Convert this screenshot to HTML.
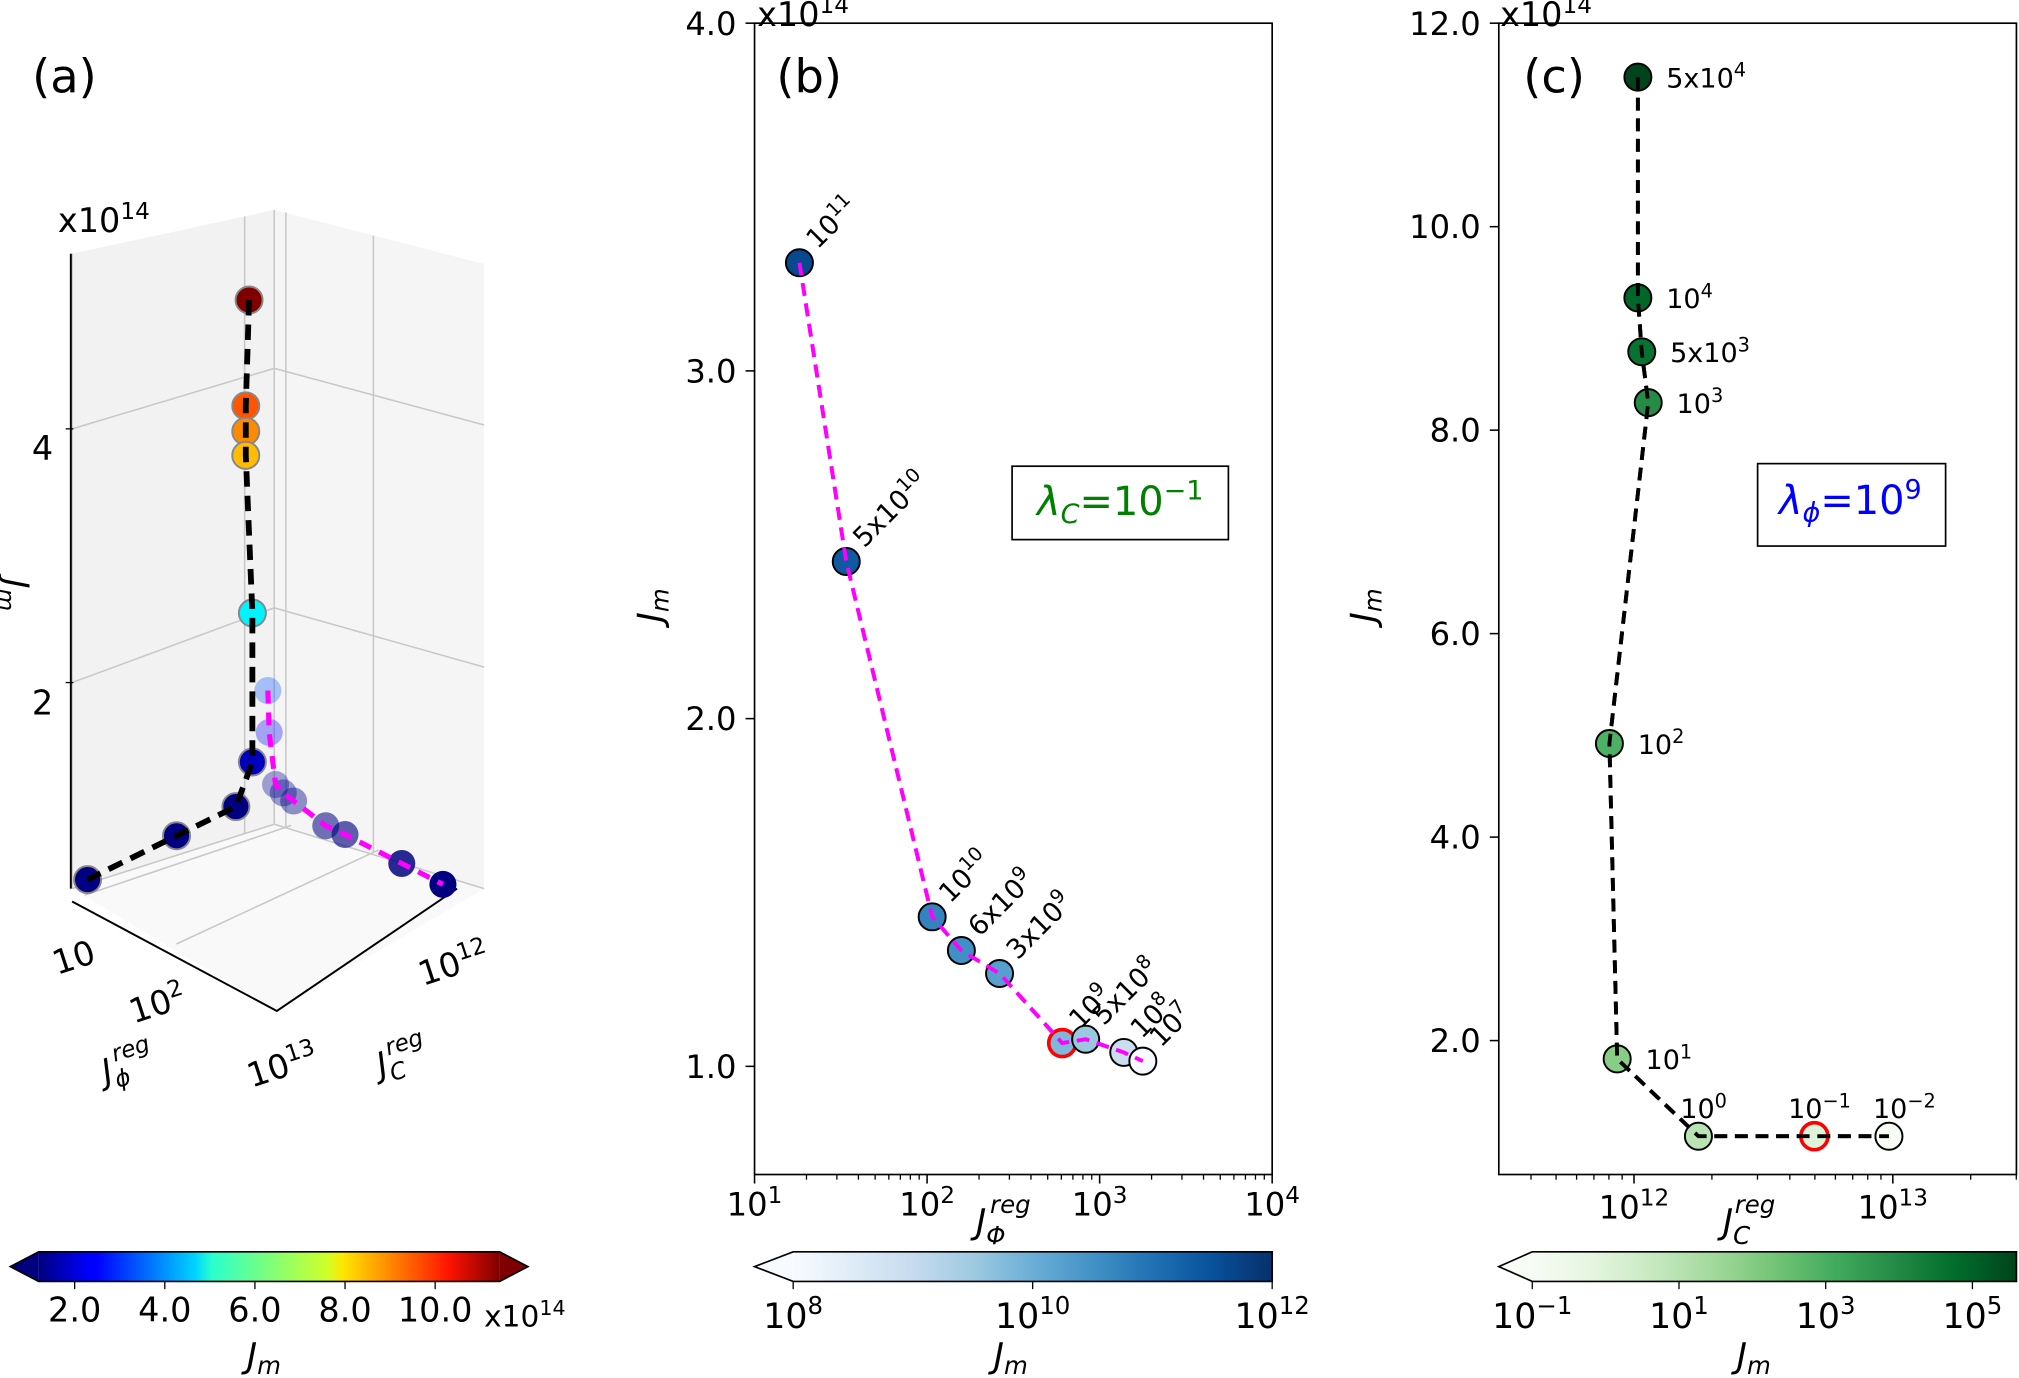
<!DOCTYPE html>
<html><head><meta charset="utf-8"><style>
html,body{margin:0;padding:0;background:#fff}
svg{display:block}
text{font-family:"DejaVu Sans","Liberation Sans",sans-serif;fill:#000}
</style></head><body>
<svg id="fig" xmlns="http://www.w3.org/2000/svg" width="2019" height="1378" viewBox="0 0 1568 1070" preserveAspectRatio="none">
<defs>
<linearGradient id="gJet" x1="0" x2="1" y1="0" y2="0">
<stop offset="0" stop-color="#00007f"/><stop offset="0.11" stop-color="#0000ff"/><stop offset="0.125" stop-color="#0000ff"/><stop offset="0.34" stop-color="#00d4ff"/><stop offset="0.375" stop-color="#29ffce"/><stop offset="0.5" stop-color="#7dff7a"/><stop offset="0.625" stop-color="#ceff29"/><stop offset="0.66" stop-color="#ffe600"/><stop offset="0.89" stop-color="#ff1300"/><stop offset="1" stop-color="#7f0000"/>
</linearGradient>
<linearGradient id="gBlues" x1="0" x2="1"><stop offset="0" stop-color="#f7fbff"/><stop offset=".125" stop-color="#deebf7"/><stop offset=".25" stop-color="#c6dbef"/><stop offset=".375" stop-color="#9ecae1"/><stop offset=".5" stop-color="#6baed6"/><stop offset=".625" stop-color="#4292c6"/><stop offset=".75" stop-color="#2171b5"/><stop offset=".875" stop-color="#08519c"/><stop offset="1" stop-color="#08306b"/></linearGradient>
<linearGradient id="gGreens" x1="0" x2="1"><stop offset="0" stop-color="#f7fcf5"/><stop offset=".125" stop-color="#e5f5e0"/><stop offset=".25" stop-color="#c7e9c0"/><stop offset=".375" stop-color="#a1d99b"/><stop offset=".5" stop-color="#74c476"/><stop offset=".625" stop-color="#41ab5d"/><stop offset=".75" stop-color="#238b45"/><stop offset=".875" stop-color="#006d2c"/><stop offset="1" stop-color="#00441b"/></linearGradient>
</defs>

<g>
<polygon points="56,197 213,163 213,640 56,690" fill="#f2f2f2"/>
<polygon points="213,163 376,205 376,690 213,640" fill="#f5f5f5"/>
<polygon points="56,690 213,640 376,690 215,785" fill="#f9f9f9"/>
<g stroke="#c8c8c8" stroke-width="1.2" fill="none">
<line x1="56" y1="197" x2="56" y2="690"/><line x1="190" y1="168" x2="190" y2="647"/>
<line x1="213" y1="163" x2="213" y2="640"/><line x1="222" y1="165" x2="222" y2="642"/><line x1="290" y1="183" x2="290" y2="662"/>
<polyline points="56,333 213,286 376,330"/><polyline points="56,530 213,472 376,518"/>
<line x1="66" y1="695" x2="226" y2="641"/><line x1="137" y1="733" x2="294" y2="660"/>
<line x1="213" y1="640" x2="376" y2="690"/><line x1="213" y1="640" x2="56" y2="690"/>
</g>
<line x1="55" y1="197" x2="55" y2="690" stroke="#000" stroke-width="1.5"/>
<line x1="51" y1="333" x2="57" y2="333" stroke="#000"/><line x1="51" y1="530" x2="57" y2="530" stroke="#000"/>
<polyline points="56,700 215,785 355,690" fill="none" stroke="#000" stroke-width="1.5"/>
<text x="33" y="357" font-size="26" text-anchor="middle">4</text>
<text x="33" y="555" font-size="26" text-anchor="middle">2</text>
<text x="45" y="180" font-size="26">x10<tspan font-size="18" dy="-10">14</tspan></text>
<text transform="translate(4,462) rotate(90)" font-size="26" font-style="italic" text-anchor="middle">J<tspan font-size="18" dy="5">m</tspan></text>
<text transform="translate(60,752) rotate(-18)" font-size="26" text-anchor="middle">10</text>
<text transform="translate(125,788) rotate(-18)" font-size="26" text-anchor="middle">10<tspan font-size="18" dy="-10">2</tspan></text>
<text transform="translate(222,836) rotate(-18)" font-size="26" text-anchor="middle">10<tspan font-size="18" dy="-10">13</tspan></text>
<text transform="translate(355,757) rotate(-18)" font-size="26" text-anchor="middle">10<tspan font-size="18" dy="-10">12</tspan></text>
<text transform="translate(102,835) rotate(-18)" font-size="26" font-style="italic" text-anchor="middle">J<tspan font-size="18" dy="6">ϕ</tspan><tspan font-size="18" dx="-8" dy="-20">reg</tspan></text>
<text transform="translate(315,830) rotate(-18)" font-size="26" font-style="italic" text-anchor="middle">J<tspan font-size="18" dy="6">C</tspan><tspan font-size="18" dx="-10" dy="-20">reg</tspan></text>
<text x="25" y="72" font-size="36">(a)</text>
</g>
<g id="a-marks"></g>

<g>
<text x="603" y="72" font-size="36">(b)</text>
<g id="b-ticks"></g>
<g id="b-marks"></g>
<rect x="586" y="18" width="402" height="894" fill="none" stroke="#000" stroke-width="1.3"/>
<text x="588" y="20" font-size="26">x10<tspan font-size="18" dy="-10">14</tspan></text>
<text transform="translate(514,470) rotate(-90)" font-size="27" font-style="italic" text-anchor="middle">J<tspan font-size="19" dy="5">m</tspan></text>
<text x="758" y="958" font-size="27" font-style="italic">J<tspan font-size="19" dy="8">Φ</tspan><tspan font-size="19" dx="-12" dy="-24">reg</tspan></text>
<rect x="786" y="362" width="168" height="57" fill="#fff" stroke="#000" stroke-width="1.3"/>
<text x="870" y="400" font-size="31" text-anchor="middle" style="fill:#008000"><tspan font-style="italic">λ</tspan><tspan font-size="21" font-style="italic" dy="6">C</tspan><tspan dy="-6">=10</tspan><tspan font-size="21" dy="-12">−1</tspan></text>
</g>

<g>
<text x="1183" y="72" font-size="36">(c)</text>
<g id="c-ticks"></g>
<g id="c-marks"></g>
<rect x="1164" y="18" width="402" height="894" fill="none" stroke="#000" stroke-width="1.3"/>
<text x="1165" y="20" font-size="26">x10<tspan font-size="18" dy="-10">14</tspan></text>
<text transform="translate(1068,470) rotate(-90)" font-size="27" font-style="italic" text-anchor="middle">J<tspan font-size="19" dy="5">m</tspan></text>
<text x="1338" y="958" font-size="27" font-style="italic">J<tspan font-size="19" dy="8">C</tspan><tspan font-size="19" dx="-12" dy="-24">reg</tspan></text>
<rect x="1365" y="360" width="146" height="64" fill="#fff" stroke="#000" stroke-width="1.3"/>
<text x="1437" y="399" font-size="31" text-anchor="middle" style="fill:#0000ff"><tspan font-style="italic">λ</tspan><tspan font-size="21" font-style="italic" dy="6">ϕ</tspan><tspan dy="-6">=10</tspan><tspan font-size="21" dy="-12">9</tspan></text>
</g>

<g>
<rect x="30" y="972" width="358" height="23" fill="url(#gJet)"/>
<polygon points="30,972 8,983.5 30,995" fill="#00007f"/><polygon points="388,972 410,983.5 388,995" fill="#7f0000"/>
<polygon points="30,972 388,972 410,983.5 388,995 30,995 8,983.5" fill="none" stroke="#000" stroke-width="1.3"/>
<g id="cba-ticks"></g>
<text x="376" y="1030" font-size="23">x10<tspan font-size="16" dy="-9">14</tspan></text>
<text x="205" y="1062" font-size="27" font-style="italic" text-anchor="middle">J<tspan font-size="19" dy="5">m</tspan></text>
</g>
<g>
<rect x="616" y="972" width="372" height="23" fill="url(#gBlues)"/>
<polygon points="616,972 586,983.5 616,995" fill="#f7fbff"/>
<polygon points="616,972 988,972 988,995 616,995 586,983.5" fill="none" stroke="#000" stroke-width="1.3"/>
<g id="cbb-ticks"></g>
<text x="785" y="1062" font-size="27" font-style="italic" text-anchor="middle">J<tspan font-size="19" dy="5">m</tspan></text>
</g>
<g>
<rect x="1190" y="972" width="376" height="23" fill="url(#gGreens)"/>
<polygon points="1190,972 1164,983.5 1190,995" fill="#f7fcf5"/>
<polygon points="1190,972 1566,972 1566,995 1190,995 1164,983.5" fill="none" stroke="#000" stroke-width="1.3"/>
<g id="cbc-ticks"></g>
<text x="1362" y="1062" font-size="27" font-style="italic" text-anchor="middle">J<tspan font-size="19" dy="5">m</tspan></text>
</g>
</svg>
<script>
const bLambdaExp = [11, 10.699, 10, 9.778, 9.477, 9, 8.699, 8, 7];
const bLabels = ["10|11","5x10|10","10|10","6x10|9","3x10|9","10|9","5x10|8","10|8","10|7"];
const bJphi = [18.2, 34, 107, 158, 263, 607, 830, 1380, 1780];
const bJm = [3.311, 2.452, 1.43, 1.333, 1.267, 1.067, 1.078, 1.04, 1.015];
const bYTicks = [1.0, 2.0, 3.0, 4.0];
const bXTickExps = [1, 2, 3, 4];
const cLambdaExp = [4.699, 4, 3.699, 3, 2, 1, 0, -1, -2];
const cLabels = ["5x10|4","10|4","5x10|3","10|3","10|2","10|1","10|0","10|−1","10|−2"];
const cJcLog = [12.015, 12.015, 12.03, 12.055, 11.905, 11.935, 12.249, 12.697, 12.985];
const cJm = [11.47, 9.30, 8.77, 8.27, 4.92, 1.82, 1.06, 1.06, 1.06];
const cYTicks = [2.0, 4.0, 6.0, 8.0, 10.0, 12.0];
const cXTickExps = [12, 13];
const aBlackU = [0.02, 0.04, 0.04, 0.04, 0, 0, 0.1, 0.46, 1];
const aBlackJm = [11.47, 9.30, 8.77, 8.27, 4.92, 1.82, 1.06, 1.06, 1.06];
const aMagV = [-0.046, -0.038, 0, 0.046, 0.108, 0.3, 0.415, 0.754, 1];
const aMagJm = [3.311, 2.452, 1.43, 1.333, 1.267, 1.07, 1.08, 1.04, 1.015];
const cbaTicks = [2.0, 4.0, 6.0, 8.0, 10.0];
const cbbTickExps = [8, 10, 12];
const cbcTickExps = [-1, 1, 3, 5];

const NS = "http://www.w3.org/2000/svg";
function mk(tag, attrs, parent){const e=document.createElementNS(NS,tag);for(const k in attrs)e.setAttribute(k,attrs[k]);parent.appendChild(e);return e;}
function lerpHex(stops,t){t=Math.max(0,Math.min(1,t));const n=stops.length-1;const i=Math.min(n-1,Math.floor(t*n));const f=t*n-i;
 const a=stops[i],b=stops[i+1];const c=[0,2,4].map(j=>Math.round(parseInt(a.substr(1+j,2),16)*(1-f)+parseInt(b.substr(1+j,2),16)*f));return `rgb(${c[0]},${c[1]},${c[2]})`;}
const BLUES=["#f7fbff","#deebf7","#c6dbef","#9ecae1","#6baed6","#4292c6","#2171b5","#08519c","#08306b"];
const GREENS=["#f7fcf5","#e5f5e0","#c7e9c0","#a1d99b","#74c476","#41ab5d","#238b45","#006d2c","#00441b"];
function jet(t){t=Math.max(0,Math.min(1,t));const r=Math.max(0,Math.min(1,1.5-Math.abs(4*t-3))),g=Math.max(0,Math.min(1,1.5-Math.abs(4*t-2))),b=Math.max(0,Math.min(1,1.5-Math.abs(4*t-1)));return `rgb(${Math.round(r*255)},${Math.round(g*255)},${Math.round(b*255)})`;}
function supText(parent,x,y,str,fs,anchor,rot){
 const [base,sup]=str.split("|");
 const t=mk("text",{x:x,y:y,"font-size":fs,"text-anchor":anchor||"start"},parent);
 if(rot)t.setAttribute("transform",`rotate(${rot} ${x} ${y})`);
 t.appendChild(document.createTextNode(base));
 if(sup!==undefined){const s=mk("tspan",{"font-size":Math.round(fs*0.7),dy:-fs*0.4},t);s.textContent=sup;}
 return t;}

const bx = v => 586 + (Math.log10(v)-1)*134;
const by = v => 18 + (4-v)*270;
const cx = lg => 1269 + (lg-12)*201;
const cy = v => 18 + (12-v)*79;
const aProjBlack = (u,jm) => [196-128*u, 620+63*u-(jm-1.06)*37.3];
const aProjMag = (v,jm) => [214+130*v, 623+62*v-(jm-1.06)*37.3];
const jetNorm = v => (v-1.2)/(11.43-1.2);
const bluesNorm = e => (e-8)/4;
const greensNorm = e => (e+1)/6.6;
const bMarkNorm = e => (e-7)/4.4;
const cMarkNorm = e => (e+2)/6.7;

const bt=document.getElementById("b-ticks");
bYTicks.forEach(v=>{const y=by(v);
 mk("line",{x1:579,y1:y,x2:586,y2:y,stroke:"#000","stroke-width":1.2},bt);
 const t=mk("text",{x:572,y:y+9,"font-size":25,"text-anchor":"end"},bt);t.textContent=v.toFixed(1);
 
 });
bXTickExps.forEach(e=>{const x=bx(Math.pow(10,e));
 mk("line",{x1:x,y1:912,x2:x,y2:919,stroke:"#000","stroke-width":1.2},bt);
 const t=supText(bt,x,944,"10|"+e,25,"middle");
 
 
 if(e<4)for(let m=2;m<10;m++){const xm=bx(m*Math.pow(10,e));mk("line",{x1:xm,y1:912,x2:xm,y2:916,stroke:"#000","stroke-width":1},bt);}});
const bm=document.getElementById("b-marks");
const bLine=mk("polyline",{points:bJphi.map((v,i)=>bx(v)+","+by(bJm[i])).join(" "),fill:"none",stroke:"#ff00ff","stroke-width":3,"stroke-dasharray":"10,6"},bm);


bJphi.forEach((v,i)=>{const x=bx(v),y=by(bJm[i]);
 const red=bLambdaExp[i]===9;
 const c=mk("circle",{cx:x,cy:y,r:10.5,fill:lerpHex(BLUES,bMarkNorm(bLambdaExp[i])),stroke:red?"#ff0000":"#000","stroke-width":red?2.8:1.5},bm);
 
 
 const t=supText(bm,x+14,y-10,bLabels[i],21,"start",-45);
 
 });
mk("polyline",{points:bJphi.map((v,i)=>bx(v)+","+by(bJm[i])).join(" "),fill:"none",stroke:"#ff00ff","stroke-width":3,"stroke-dasharray":"10,6"},bm);

const ct=document.getElementById("c-ticks");
cYTicks.forEach(v=>{const y=cy(v);
 mk("line",{x1:1157,y1:y,x2:1164,y2:y,stroke:"#000","stroke-width":1.2},ct);
 const t=mk("text",{x:1150,y:y+9,"font-size":25,"text-anchor":"end"},ct);t.textContent=v.toFixed(1);
 
 });
cXTickExps.forEach(e=>{const x=cx(e);
 mk("line",{x1:x,y1:912,x2:x,y2:919,stroke:"#000","stroke-width":1.2},ct);
 const t=supText(ct,x,946,"10|"+e,25,"middle");
 
 });
[11,12,13].forEach(e=>{for(let m=2;m<10;m++){const lg=e+Math.log10(m);const x=cx(lg);if(x>1164&&x<1566)mk("line",{x1:x,y1:912,x2:x,y2:916,stroke:"#000","stroke-width":1},ct);}});
const cm=document.getElementById("c-marks");
const cLine=mk("polyline",{points:cJcLog.map((v,i)=>cx(v)+","+cy(cJm[i])).join(" "),fill:"none",stroke:"#000","stroke-width":3,"stroke-dasharray":"10,6"},cm);


cJcLog.forEach((v,i)=>{const x=cx(v),y=cy(cJm[i]);
 const red=cLambdaExp[i]===-1;
 const c=mk("circle",{cx:x,cy:y,r:10.5,fill:lerpHex(GREENS,cMarkNorm(cLambdaExp[i])),stroke:red?"#ff0000":"#000","stroke-width":red?2.8:1.5},cm);
 
 
 const above=cLambdaExp[i]<=0;
 const t=supText(cm,above?x+(cLambdaExp[i]===-2?12:4):x+22,above?y-14:y+8,cLabels[i],21,above?"middle":"start",0);
 
 });
mk("polyline",{points:cJcLog.map((v,i)=>cx(v)+","+cy(cJm[i])).join(" "),fill:"none",stroke:"#000","stroke-width":3,"stroke-dasharray":"10,6"},cm);

const am=document.getElementById("a-marks");
const blackPts=aBlackU.map((u,i)=>aProjBlack(u,aBlackJm[i]));
const magPts=aMagV.map((v,i)=>aProjMag(v,aMagJm[i]));
magPts.forEach((p,i)=>{
 const c=mk("circle",{cx:p[0],cy:p[1],r:10.5,fill:jet(jetNorm(aMagJm[i])),"fill-opacity":Math.max(0.3,Math.min(1,0.35+0.65*aMagV[i]))},am);
 
 });
const ml=mk("polyline",{points:magPts.map(p=>p.join(",")).join(" "),fill:"none",stroke:"#ff00ff","stroke-width":4,"stroke-dasharray":"10,7"},am);


blackPts.forEach((p,i)=>{
 const c=mk("circle",{cx:p[0],cy:p[1],r:10.5,fill:jet(jetNorm(aBlackJm[i])),stroke:"#888","stroke-width":1.5},am);
 
 });
const bl=mk("polyline",{points:blackPts.map(p=>p.join(",")).join(" "),fill:"none",stroke:"#000","stroke-width":4.5,"stroke-dasharray":"12,7"},am);



const ca=document.getElementById("cba-ticks");
cbaTicks.forEach(v=>{const x=30+(v-1.2)/(11.43-1.2)*358;
 mk("line",{x1:x,y1:995,x2:x,y2:1001,stroke:"#000"},ca);
 const t=mk("text",{x:x,y:1026,"font-size":26,"text-anchor":"middle"},ca);t.textContent=v.toFixed(1);
 
 });
const cb=document.getElementById("cbb-ticks");
cbbTickExps.forEach(e=>{const x=616+bluesNorm(e)*372;
 mk("line",{x1:x,y1:995,x2:x,y2:1001,stroke:"#000"},cb);
 const t=supText(cb,x,1031,"10|"+e,27,"middle");
 
 });
const cc=document.getElementById("cbc-ticks");
cbcTickExps.forEach(e=>{const x=1190+greensNorm(e)*376;
 mk("line",{x1:x,y1:995,x2:x,y2:1001,stroke:"#000"},cc);
 const t=supText(cc,x,1031,"10|"+(e<0?"−"+(-e):e),27,"middle");
 
 });
</script>
</body></html>
